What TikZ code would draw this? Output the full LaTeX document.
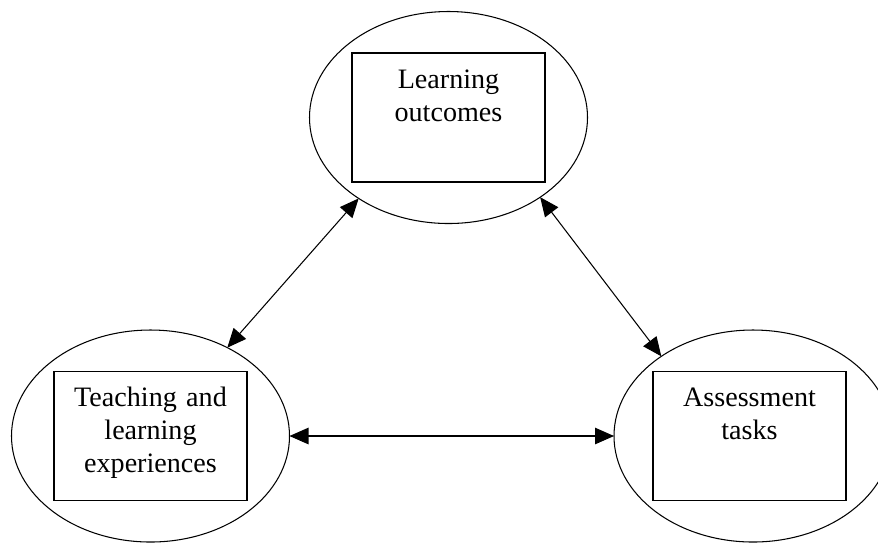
\documentclass[tikz,border=0pt]{standalone}
\usepackage{fontspec}
\setmainfont{Liberation Serif}
\usetikzlibrary{shapes.geometric, arrows.meta}

\tikzset{
  oval/.style={draw, ellipse, minimum width=5.56cm, minimum height=4.24cm,
    inner sep=0pt, outer sep=0pt, line width=0.6pt},
  inbox/.style={draw, rectangle, text width=3.86cm, align=center, inner sep=0pt,
    text height=0.70cm, text depth=1.88cm, line width=0.6pt,
    font=\fontsize{16}{18.8}\selectfont},
  link/.style={{Triangle[length=0.38cm,width=0.33cm]}-{Triangle[length=0.38cm,width=0.33cm]},
    line width=0.6pt}
}

\begin{document}
\begin{tikzpicture}
    \useasboundingbox (0,0) rectangle (17.56,-10.84);

    \node[oval] (oval 0) at (8.97,-2.35) {};
    \node[oval] (oval 1) at (3.01,-8.72) {};
    \node[oval] (oval 2) at (15.06,-8.72) {};

    \node[inbox] (box 0) at (oval 0.center) {Learning\\outcomes};
    \node[inbox] (box 1) at (oval 1.center) {Teaching and\\learning\\experiences};
    \node[inbox] (box 2) at ([xshift=-0.07cm]oval 2.center) {Assessment\\tasks};

    \draw[link] (oval 0.222) -- (oval 1.49);
    \draw[link] (oval 0.319) -- (oval 2.139);
    \draw[link] (oval 1.east) -- (oval 2.west);
\end{tikzpicture}
\end{document}
